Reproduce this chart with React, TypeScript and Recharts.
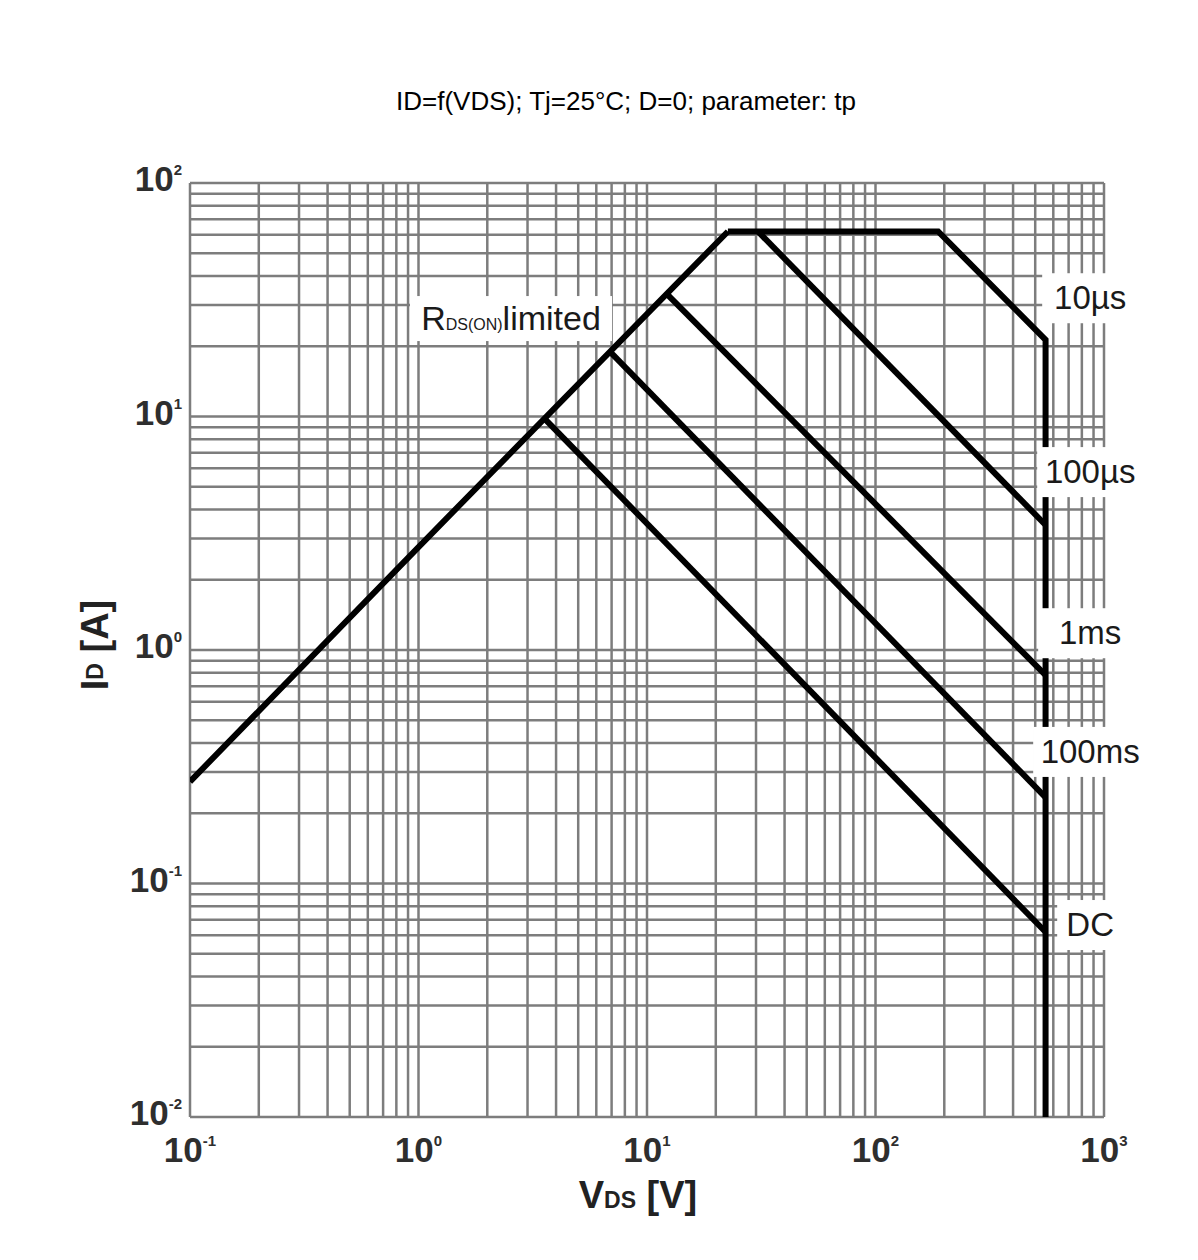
import React from 'react';
import { LineChart, Line, XAxis, YAxis, CartesianGrid, ReferenceDot } from 'recharts';

// ---- data ----
const xGridTicks = [
  0.1, 0.2, 0.3, 0.4, 0.5, 0.6, 0.7, 0.8, 0.9,
  1, 2, 3, 4, 5, 6, 7, 8, 9,
  10, 20, 30, 40, 50, 60, 70, 80, 90,
  100, 200, 300, 400, 500, 600, 700, 800, 900,
  1000,
];
const yGridTicks = [
  0.01, 0.02, 0.03, 0.04, 0.05, 0.06, 0.07, 0.08, 0.09,
  0.1, 0.2, 0.3, 0.4, 0.5, 0.6, 0.7, 0.8, 0.9,
  1, 2, 3, 4, 5, 6, 7, 8, 9,
  10, 20, 30, 40, 50, 60, 70, 80, 90,
  100,
];
const xDecades = [0.1, 1, 10, 100, 1000];
const xExponents = ['-1', '0', '1', '2', '3'];
const yDecades = [0.01, 0.1, 1, 10, 100];
const yExponents = ['-2', '-1', '0', '1', '2'];

const rdsV = [0.1, 1, 22.6];
const rdsI = [0.273, 2.76, 62];
const us10V = [22.6, 188, 555, 555];
const us10I = [62, 62, 21.3, 0.01];
const us100V = [30.6, 555];
const us100I = [62, 3.43];
const ms1V = [12.2, 555];
const ms1I = [33.5, 0.78];
const ms100V = [6.9, 555];
const ms100I = [18.9, 0.234];
const dcV = [3.56, 555];
const dcI = [9.8, 0.062];

const pulseLabels = ['10µs', '100µs', '1ms', '100ms', 'DC'];
const pulseLabelV = [870, 870, 870, 870, 870];
const pulseLabelI = [32.1, 5.78, 1.18, 0.366, 0.0664];
const rdsLabelV = 2.54;
const rdsLabelI = 26.4;

const title = 'ID=f(VDS); Tj=25°C; D=0; parameter: tp';

// ---- styles ----
const FONT = '"Liberation Sans", Arial, Helvetica, sans-serif';
const boxWidths = [96, 106, 104, 114, 66];
const BOX_H = 50;

const toData = (v: number[], i: number[]) => v.map((x, k) => ({ x, y: i[k] }));

const series = [
  toData(rdsV, rdsI),
  toData(us10V, us10I),
  toData(us100V, us100I),
  toData(ms1V, ms1I),
  toData(ms100V, ms100I),
  toData(dcV, dcI),
];

const XTick = (props: any) => {
  const { x, y, payload } = props;
  const idx = xDecades.indexOf(payload.value);
  if (idx < 0) return <g />;
  return (
    <text x={x} y={y + 37} textAnchor="middle" fontFamily={FONT} fontWeight="bold" fontSize={35} fill="#2e2e2e">
      10<tspan dy={-16} fontSize={15}>{xExponents[idx]}</tspan>
    </text>
  );
};

const YTick = (props: any) => {
  const { x, y, payload } = props;
  const idx = yDecades.indexOf(payload.value);
  if (idx < 0) return <g />;
  return (
    <text x={x} y={y + 8} textAnchor="end" fontFamily={FONT} fontWeight="bold" fontSize={35} fill="#2e2e2e">
      10<tspan dy={-16} fontSize={15}>{yExponents[idx]}</tspan>
    </text>
  );
};

const makePulseShape = (k: number) => (props: any) => {
  const { cx, cy } = props;
  const w = boxWidths[k];
  return (
    <g>
      <rect x={cx - w / 2} y={cy - BOX_H / 2} width={w} height={BOX_H} fill="#fff" />
      <text x={cx} y={cy + 11} textAnchor="middle" fontFamily={FONT} fontSize={33} fill="#1a1a1a">
        {pulseLabels[k]}
      </text>
    </g>
  );
};

const RdsShape = (props: any) => {
  const { cx, cy } = props;
  return (
    <g>
      <rect x={cx - 101} y={cy - 22} width={202} height={45} fill="#fff" />
      <text x={cx} y={cy + 12} textAnchor="middle" fontFamily={FONT} fontSize={34} fill="#1a1a1a">
        R<tspan fontSize={16}>DS(ON)</tspan><tspan>limited</tspan>
      </text>
    </g>
  );
};

export default function App() {
  return (
    <LineChart
      width={1182}
      height={1244}
      margin={{ top: 175, right: 86, bottom: 75, left: 122 }}
      style={{ background: '#fff' }}
    >
      <text x={618} y={102} textAnchor="middle" fontFamily={FONT} fontSize={26} fill="#000">
        {title}
      </text>
      <text x={630} y={1200} textAnchor="middle" fontFamily={FONT} fontWeight="bold" fontSize={38} fill="#222">
        V<tspan fontSize={23}>DS</tspan><tspan> [V]</tspan>
      </text>
      <text
        x={87}
        y={637}
        transform="rotate(-90, 87, 637)"
        textAnchor="middle"
        dominantBaseline="central"
        fontFamily={FONT}
        fontWeight="bold"
        fontSize={38}
        fill="#222"
      >
        I<tspan fontSize={23}>D</tspan><tspan> [A]</tspan>
      </text>
      <CartesianGrid stroke="#7d7d7d" strokeWidth={2.5} fill="none" />
      <XAxis
        dataKey="x"
        type="number"
        scale="log"
        domain={[0.1, 1000]}
        ticks={xGridTicks}
        interval={0}
        allowDataOverflow
        axisLine={false}
        tickLine={false}
        tick={<XTick />}
        height={60}
      />
      <YAxis
        dataKey="y"
        type="number"
        scale="log"
        domain={[0.01, 100]}
        ticks={yGridTicks}
        interval={0}
        allowDataOverflow
        axisLine={false}
        tickLine={false}
        tick={<YTick />}
        width={60}
      />
      {series.map((d, k) => (
        <Line
          key={k}
          data={d}
          dataKey="y"
          type="linear"
          stroke="#000"
          strokeWidth={6}
          dot={false}
          activeDot={false}
          isAnimationActive={false}
        />
      ))}
      {pulseLabels.map((lbl, k) => (
        <ReferenceDot
          key={lbl}
          x={pulseLabelV[k]}
          y={pulseLabelI[k]}
          r={1}
          shape={makePulseShape(k)}
          zIndex={2000}
        />
      ))}
      <ReferenceDot x={rdsLabelV} y={rdsLabelI} r={1} shape={RdsShape} zIndex={2000} />
    </LineChart>
  );
}
